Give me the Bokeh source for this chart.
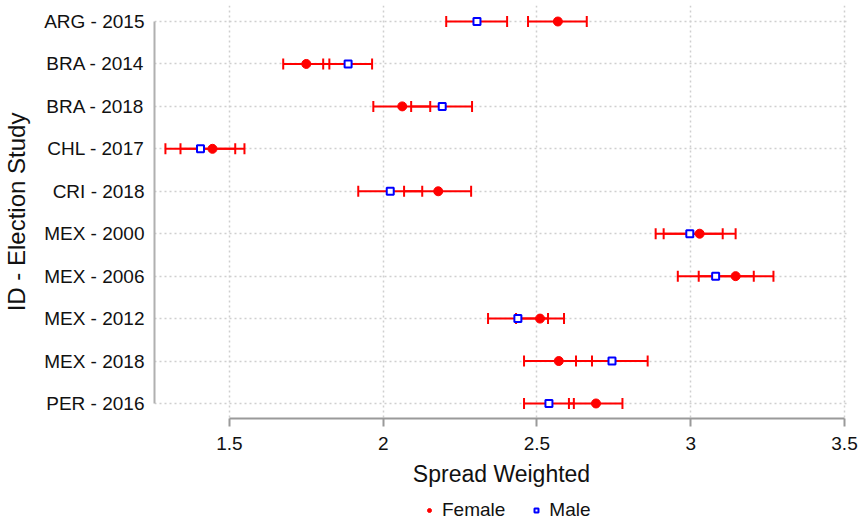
from bokeh.plotting import figure
from bokeh.models import (ColumnDataSource, Range1d, FixedTicker, Whisker, TeeHead,
                          Legend, LegendItem)
from bokeh.layouts import column
from bokeh.embed import file_html
from bokeh.resources import INLINE

# ---- data ----
studies = ["ARG - 2015", "BRA - 2014", "BRA - 2018", "CHL - 2017", "CRI - 2018",
           "MEX - 2000", "MEX - 2006", "MEX - 2012", "MEX - 2018", "PER - 2016"]
female_mean = [2.568, 1.750, 2.062, 1.445, 2.179, 3.029, 3.146, 2.510, 2.571, 2.692]
female_lo = [2.471, 1.675, 1.968, 1.341, 2.068, 2.912, 3.026, 2.432, 2.458, 2.604]
female_hi = [2.662, 1.825, 2.153, 1.549, 2.286, 3.146, 3.269, 2.588, 2.679, 2.778]
male_mean = [2.305, 1.886, 2.192, 1.406, 2.023, 2.997, 3.081, 2.438, 2.744, 2.539]
male_lo = [2.205, 1.805, 2.091, 1.292, 1.919, 2.886, 2.958, 2.341, 2.627, 2.458]
male_hi = [2.403, 1.964, 2.289, 1.519, 2.127, 3.104, 3.205, 2.536, 2.860, 2.620]
x_ticks = [1.5, 2, 2.5, 3, 3.5]
x_tick_labels = ["1.5", "2", "2.5", "3", "3.5"]
legend_labels = ["Female", "Male"]

FONT = "Liberation Sans"
RED = "#ff0000"
BLUE = "#0000ff"
TXT = "#111111"

rows = list(range(len(studies)))
fsrc = ColumnDataSource(dict(y=rows, x=female_mean, lo=female_lo, hi=female_hi))
msrc = ColumnDataSource(dict(y=rows, x=male_mean, lo=male_lo, hi=male_hi))

p = figure(width=862, height=495, output_backend="svg", toolbar_location=None,
           x_range=Range1d(1.2565, 3.513), y_range=Range1d(9.354, -0.377),
           min_border_left=153, min_border_right=14, min_border_top=5,
           min_border_bottom=77)
p.outline_line_color = None
p.background_fill_color = "white"
p.border_fill_color = "white"

# grid
for g in (p.xgrid, p.ygrid):
    g.grid_line_color = "#cfcfcf"
    g.grid_line_dash = "2 3"
    g.grid_line_width = 1.5

# x axis
xa = p.xaxis[0]
xa.ticker = FixedTicker(ticks=x_ticks)
xa.major_label_overrides = {t: l for t, l in zip(x_ticks, x_tick_labels)}
xa.bounds = (x_ticks[0], x_ticks[-1])
xa.axis_label = "Spread Weighted"
xa.axis_label_text_font = FONT
xa.axis_label_text_font_size = "23px"
xa.axis_label_text_font_style = "normal"
xa.axis_label_text_color = TXT
xa.axis_label_standoff = 8
xa.major_label_text_font = FONT
xa.major_label_text_font_size = "19px"
xa.major_label_text_color = TXT
xa.major_label_standoff = 10
xa.axis_line_color = "#9a9a9a"
xa.axis_line_width = 2
xa.major_tick_line_color = "#9a9a9a"
xa.major_tick_line_width = 2
xa.major_tick_out = 8
xa.major_tick_in = 0
xa.minor_tick_line_color = None

# y axis
ya = p.yaxis[0]
ya.ticker = FixedTicker(ticks=rows)
ya.major_label_overrides = {i: s for i, s in zip(rows, studies)}
ya.bounds = (rows[0], rows[-1])
ya.axis_label = "ID - Election Study"
ya.axis_label_text_font = FONT
ya.axis_label_text_font_size = "24px"
ya.axis_label_text_font_style = "normal"
ya.axis_label_text_color = TXT
ya.axis_label_standoff = 11
ya.major_label_text_font = FONT
ya.major_label_text_font_size = "19px"
ya.major_label_text_color = TXT
ya.major_label_standoff = 10
ya.axis_line_color = "#b0b0b0"
ya.axis_line_width = 2
ya.major_tick_line_color = None
ya.major_tick_out = 0
ya.major_tick_in = 0
ya.minor_tick_line_color = None

# error bars
for src in (fsrc, msrc):
    w = Whisker(source=src, base="y", lower="lo", upper="hi", dimension="width",
                line_color=RED, line_width=2,
                lower_head=TeeHead(size=11, line_color=RED, line_width=2),
                upper_head=TeeHead(size=11, line_color=RED, line_width=2))
    p.add_layout(w)

# markers
p.scatter("x", "y", source=fsrc, marker="circle", size=9,
          fill_color=RED, line_color=RED)
p.scatter("x", "y", source=msrc, marker="square", size=7,
          fill_color="white", line_color=BLUE, line_width=2)

# legend strip below the chart (renderers hold no visible data; they only
# provide the legend swatches)
pl = figure(width=862, height=27, output_backend="svg", toolbar_location=None,
            x_range=Range1d(0, 1), y_range=Range1d(0, 1),
            min_border_left=0, min_border_right=0, min_border_top=0,
            min_border_bottom=0)
pl.axis.visible = False
pl.grid.visible = False
pl.outline_line_color = None
nan_src = ColumnDataSource(dict(x=[float("nan")], y=[float("nan")]))
lf = pl.scatter("x", "y", source=nan_src, marker="circle", size=8,
                fill_color=RED, line_color=RED)
lm = pl.scatter("x", "y", source=nan_src, marker="square", size=7,
                fill_color="white", line_color=BLUE, line_width=2)
legend = Legend(items=[LegendItem(label=legend_labels[0], renderers=[lf]),
                       LegendItem(label=legend_labels[1], renderers=[lm])],
                orientation="horizontal", location=(270, 1),
                label_text_font=FONT, label_text_font_size="19px",
                label_text_color=TXT,
                glyph_width=10, glyph_height=18, label_standoff=8, spacing=26,
                padding=0, margin=0, border_line_color=None,
                background_fill_alpha=0)
pl.add_layout(legend)

layout = column(p, pl, spacing=0)
open("out.html", "w").write(file_html(layout, INLINE))
